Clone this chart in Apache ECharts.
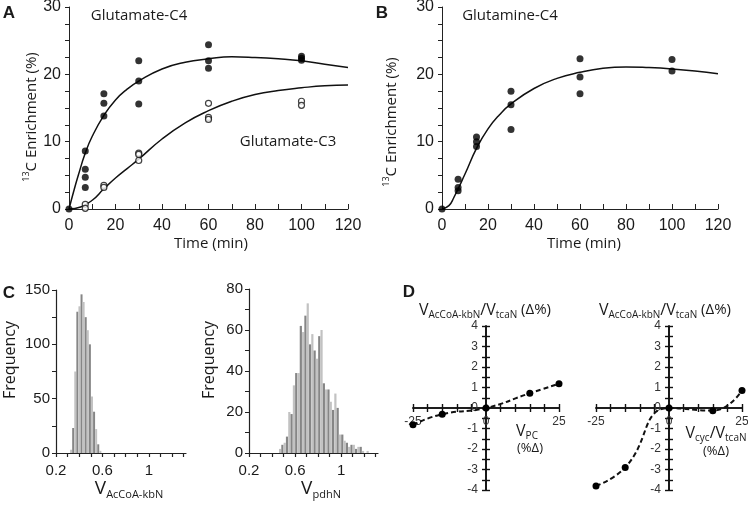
<!DOCTYPE html>
<html><head><meta charset="utf-8">
<script src="https://cdn.jsdelivr.net/npm/echarts@6/dist/echarts.min.js"></script>
<style>html,body{margin:0;padding:0;background:#fff}#c{width:748px;height:508px}</style>
</head><body><div id="c"></div>
<script>
// ---- Panel A: glutamate enrichment (time min, %)
const gluC4Points = [[0,0],[7,8.6],[7,5.9],[7,4.7],[7,3.2],[15,17.1],[15,15.7],[15,13.8],[30,22.0],[30,19.0],[30,15.6],[60,24.4],[60,22.0],[60,20.9],[100,22.7],[100,22.4],[100,22.1]];
const gluC3Points = [[7,0.7],[7,0.1],[15,3.5],[15,3.2],[30,8.3],[30,8.1],[30,7.2],[60,15.7],[60,13.6],[60,13.3],[100,16.0],[100,15.4]];
const gluC4Fit = [[0,0],[2,2.6],[4,5.0],[7,8.3],[10,10.8],[15,13.9],[20,16.2],[25,17.8],[30,19.0],[40,20.8],[50,21.8],[60,22.3],[70,22.6],[80,22.5],[90,22.3],[100,22.0],[110,21.5],[120,21.0]];
const gluC3Fit = [[0,0],[5,0.3],[10,1.3],[15,3.0],[20,4.6],[25,6.0],[30,7.4],[40,10.4],[50,12.8],[60,14.6],[70,16.0],[80,17.0],[90,17.6],[100,18.0],[110,18.3],[120,18.4]];
// ---- Panel B: glutamine
const glnC4Points = [[0,0],[7,4.4],[7,3.2],[7,2.7],[15,10.7],[15,10.0],[15,9.3],[30,17.5],[30,15.5],[30,11.8],[60,22.3],[60,19.6],[60,17.1],[100,22.2],[100,20.5]];
const glnC4Fit = [[0,0],[3,0.5],[5,1.6],[10,5.2],[15,9.0],[20,11.9],[25,14.0],[30,15.6],[40,17.9],[50,19.4],[60,20.3],[70,20.9],[80,21.1],[90,21.0],[100,20.8],[110,20.5],[120,20.1]];
// ---- Panel C: histograms
const acoaBins = [0.330,0.348,0.366,0.384,0.402,0.420,0.438,0.456,0.474,0.492,0.510,0.528,0.546,0.564,0.582];
const acoaCounts = [3,23,75,130,135,146,139,125,113,100,52,38,22,8,2];
const pdhBins = [0.47,0.49,0.51,0.53,0.55,0.57,0.59,0.61,0.63,0.65,0.67,0.69,0.71,0.73,0.75,0.77,0.79,0.81,0.83,0.85,0.87,0.89,0.91,0.93,0.95,0.97,0.99,1.01,1.03,1.05,1.07,1.09,1.11,1.13,1.15,1.17,1.19,1.21,1.23];
const pdhCounts = [2,4,5,8,20,19,33,39,39,62,59,67,73,53,58,50,46,57,60,34,31,31,25,21,29,22,9,9,6,5,3,4,4,2,3,3,1,0,1];
const histTickLabels = [0.2,0.6,1];
// ---- Panel D: sensitivity
const dChange = [-25,-15,0,15,25];
const dPcVals = [-0.82,-0.30,0,0.72,1.18];
const dCycVals = [-3.8,-2.9,0,-0.13,0.85];

const TF = 'Liberation Sans, Arial, sans-serif';
const LF = 'Open Sans, sans-serif';
const INK = '#1a1a1a';
const pair = (xs, ys) => xs.map((x,i)=>[x, ys[i]]);

function timeX(grid){ return {type:'value', gridIndex:grid, min:0, max:120, interval:10,
  axisLine:{lineStyle:{color:'#222',width:1}}, axisTick:{inside:true,length:5,lineStyle:{color:'#222'}},
  splitLine:{show:false}, axisLabel:{fontFamily:TF,fontSize:16,color:INK,margin:9,formatter:v=>v%20===0?String(v):''}}; }
function pctY(grid){ return {type:'value', gridIndex:grid, min:0, max:30, interval:2.5,
  axisLine:{show:true,lineStyle:{color:'#222',width:1}}, axisTick:{show:true,length:4,lineStyle:{color:'#222'}},
  splitLine:{show:false}, axisLabel:{fontFamily:TF,fontSize:16,color:INK,margin:8,formatter:v=>v%10===0?String(v):''}}; }
function histX(grid){ return {type:'value', gridIndex:grid, min:0.2, max:1.32, interval:0.1,
  axisLine:{lineStyle:{color:'#222',width:1.2}}, axisTick:{length:4,lineStyle:{color:'#222',width:1.2}},
  splitLine:{show:false}, axisLabel:{fontFamily:TF,fontSize:15,color:INK,margin:10,showMaxLabel:false,
    formatter:v=>{const r=Math.round(v*10)/10; return histTickLabels.includes(r)?String(r):'';}}}; }
function histY(grid,max,step,lab){ return {type:'value', gridIndex:grid, min:0, max:max, interval:step,
  axisLine:{show:true,lineStyle:{color:'#222',width:1.2}}, axisTick:{show:true,length:4,lineStyle:{color:'#222'}},
  splitLine:{show:false}, axisLabel:{fontFamily:TF,fontSize:15,color:INK,margin:6,formatter:v=>v%lab===0?String(v):''}}; }
function dX(grid,pos,labels,off){ return {type:'value', gridIndex:grid, position:pos, offset:off, min:-25, max:25, interval:5,
  axisLine:{onZero:false,lineStyle:{color:'#111',width:1.6}}, axisTick:{length:4,lineStyle:{color:'#111',width:1.4}},
  splitLine:{show:false}, axisLabel:{show:labels,fontFamily:TF,fontSize:12,color:'#333',margin:8,
    formatter:v=>(v===-25||v===25||v===0)?String(v):''}}; }
function dY(grid,pos,labels,off){ return {type:'value', gridIndex:grid, position:pos, offset:off, min:-4, max:4, interval:0.5,
  axisLine:{show:true,onZero:false,lineStyle:{color:'#111',width:1.6}}, axisTick:{show:true,length:4,lineStyle:{color:'#111',width:1.4}},
  splitLine:{show:false}, axisLabel:{show:labels,fontFamily:TF,fontSize:12,color:'#333',margin:8,
    formatter:v=>Number.isInteger(v)?String(v):''}}; }

const barColor = p => p.dataIndex%2===0 ? '#c2c2c2' : '#868686';

const subRich = {
  v:{fontFamily:LF,fontSize:16,color:INK,lineHeight:20},
  V:{fontFamily:LF,fontSize:19,color:INK,lineHeight:22},
  s:{fontFamily:LF,fontSize:10,color:INK,verticalAlign:'bottom',lineHeight:14},
  S:{fontFamily:LF,fontSize:11,color:INK,verticalAlign:'bottom',lineHeight:14},
  p:{fontFamily:LF,fontSize:9,color:INK,verticalAlign:'top',lineHeight:14},
  t:{fontFamily:LF,fontSize:15,color:INK,lineHeight:20}
};
function txt(x,y,text,opt){ return {type:'text',x:x,y:y,style:Object.assign({text:text,fill:INK,fontFamily:LF,fontSize:15,align:'center',verticalAlign:'middle',rich:subRich},opt||{})}; }
const G = (l,t,w,h) => ({left:l, top:t, width:w, height:h, outerBoundsMode:'none', containLabel:false});

const chart = echarts.init(document.getElementById('c'), null, {renderer:'canvas'});
chart.setOption({
  animation:false,
  grid:[ G(69,7,279,202), G(442,7,276,202), G(56,290,130,163), G(249,289,129,164), G(413,326,146,164), G(596,326,146,164) ],
  xAxis:[ timeX(0), timeX(1), histX(2), histX(3),
    dX(4,'bottom',true,-82), dX(4,'top',false,-82), dX(5,'bottom',true,-82), dX(5,'top',false,-82) ],
  yAxis:[ pctY(0), pctY(1), histY(2,150,25,50), histY(3,80,10,20),
    dY(4,'left',true,-73), dY(4,'right',false,-73), dY(5,'left',true,-73), dY(5,'right',false,-73) ],
  series:[
    {type:'line', xAxisIndex:0, yAxisIndex:0, data:gluC4Fit, smooth:true, showSymbol:false, lineStyle:{color:'#111',width:1.5}, z:2},
    {type:'line', xAxisIndex:0, yAxisIndex:0, data:gluC3Fit, smooth:true, showSymbol:false, lineStyle:{color:'#111',width:1.5}, z:2},
    {type:'scatter', xAxisIndex:0, yAxisIndex:0, data:gluC4Points, symbolSize:7, itemStyle:{color:'#000'}, z:3},
    {type:'scatter', xAxisIndex:0, yAxisIndex:0, data:gluC3Points, symbolSize:6, itemStyle:{color:'#fff',borderColor:'#111',borderWidth:1.2}, z:3},
    {type:'line', xAxisIndex:1, yAxisIndex:1, data:glnC4Fit, smooth:true, showSymbol:false, lineStyle:{color:'#111',width:1.5}, z:2},
    {type:'scatter', xAxisIndex:1, yAxisIndex:1, data:glnC4Points, symbolSize:7, itemStyle:{color:'#000'}, z:3},
    {type:'bar', xAxisIndex:2, yAxisIndex:2, data:pair(acoaBins,acoaCounts), barWidth:2, itemStyle:{color:barColor}},
    {type:'bar', xAxisIndex:3, yAxisIndex:3, data:pair(pdhBins,pdhCounts), barWidth:2.2, itemStyle:{color:barColor}},
    {type:'line', xAxisIndex:4, yAxisIndex:4, data:pair(dChange,dPcVals), smooth:true, symbol:'circle', symbolSize:7,
      itemStyle:{color:'#000'}, lineStyle:{color:'#111',width:2,type:[5,3]}, z:3},
    {type:'line', xAxisIndex:6, yAxisIndex:6, data:pair(dChange,dCycVals), smooth:true, symbol:'circle', symbolSize:7,
      itemStyle:{color:'#000'}, lineStyle:{color:'#111',width:2,type:[5,3]}, z:3}
  ],
  graphic:[
    txt(9,13,'A',{fontFamily:TF,fontWeight:'bold',fontSize:17}),
    txt(382,13,'B',{fontFamily:TF,fontWeight:'bold',fontSize:17}),
    txt(9,293,'C',{fontFamily:TF,fontWeight:'bold',fontSize:17}),
    txt(409,292,'D',{fontFamily:TF,fontWeight:'bold',fontSize:17}),
    txt(139,16,'Glutamate-C4'),
    txt(288,142,'Glutamate-C3'),
    txt(510,16,'Glutamine-C4'),
    txt(211,244,'Time (min)'),
    Object.assign(txt(32,117,'{p|13}{t|C Enrichment (%)}'),{rotation:Math.PI/2}),
    Object.assign(txt(392,122,'{p|13}{t|C Enrichment (%)}'),{rotation:Math.PI/2}),
    txt(584,244,'Time (min)'),
    Object.assign(txt(10,360,'Frequency',{fontSize:16}),{rotation:Math.PI/2}),
    Object.assign(txt(209,360,'Frequency',{fontSize:16}),{rotation:Math.PI/2}),
    txt(129,489,'{V|V}{S|AcCoA-kbN}'),
    txt(321,489,'{V|V}{S|pdhN}'),
    txt(485,310,'{v|V}{s|AcCoA-kbN}{v|/V}{s|tcaN}{t| (Δ%)}',{fontSize:14}),
    txt(665,310,'{v|V}{s|AcCoA-kbN}{v|/V}{s|tcaN}{t| (Δ%)}',{fontSize:14}),
    txt(527,431,'{v|V}{s|PC}'),
    txt(530,448,'(%Δ)',{fontSize:13}),
    txt(716,433,'{v|V}{s|cyc}{v|/V}{s|tcaN}'),
    txt(716,451,'(%Δ)',{fontSize:13})
  ]
});
</script>
</body></html>
